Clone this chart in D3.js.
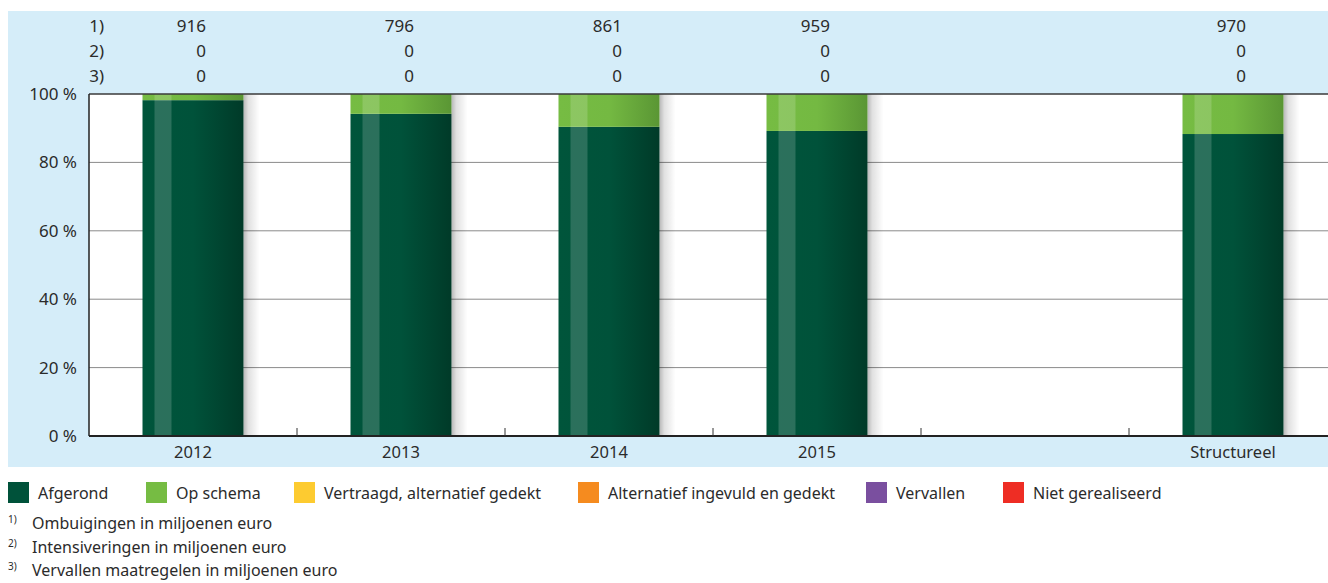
<!DOCTYPE html>
<html><head><meta charset="utf-8">
<script src="https://cdn.jsdelivr.net/npm/d3@7"></script>
<style>body{margin:0;background:#fff;font-family:"Noto Sans",sans-serif;}</style>
</head><body>
<svg id="c" width="1328" height="583"></svg>
<script>
const categories = ["2012","2013","2014","2015","","Structureel"];
const afgerond = [98.2, 94.2, 90.4, 89.2, null, 88.3];
const opSchema = [1.8, 5.8, 9.6, 10.8, null, 11.7];
const row1 = ["916","796","861","959","","970"];
const row2 = ["0","0","0","0","","0"];
const row3 = ["0","0","0","0","","0"];
const rowLabels = ["1)","2)","3)"];
const yTicks = [0,20,40,60,80,100];
const legendItems = [
  {name:"Afgerond", color:"#00523a"},
  {name:"Op schema", color:"#76bc43"},
  {name:"Vertraagd, alternatief gedekt", color:"#fdcb30"},
  {name:"Alternatief ingevuld en gedekt", color:"#f58b1f"},
  {name:"Vervallen", color:"#7a4f9f"},
  {name:"Niet gerealiseerd", color:"#ee2d24"}
];
const footnotes = [["1)","Ombuigingen in miljoenen euro"],["2)","Intensiveringen in miljoenen euro"],["3)","Vervallen maatregelen in miljoenen euro"]];

const svg = d3.select("#c");
const txt = "#2b2b2b";
const L=89, T=94, B=436, R=1337;
const x = d3.scaleBand().domain(categories.map((d,i)=>i)).range([L,R]);
const y = d3.scaleLinear().domain([0,100]).range([B,T]);

// background
svg.append("rect").attr("x",8).attr("y",11).attr("width",1320).attr("height",456).attr("fill","#d5edf9");
svg.append("rect").attr("x",L).attr("y",T).attr("width",R-L).attr("height",B-T).attr("fill","#fff");

const defs = svg.append("defs");
function grad(id, stops){
  const g = defs.append("linearGradient").attr("id",id).attr("x1","0").attr("x2","1").attr("y1","0").attr("y2","0");
  stops.forEach(s=>g.append("stop").attr("offset",s[0]).attr("stop-color",s[1]).attr("stop-opacity",s[2]===undefined?1:s[2]));
}
grad("gDark",[[0,"#00553b"],[0.5,"#00523a"],[1,"#003a28"]]);
grad("gGreen",[[0,"#76bc43"],[0.5,"#74b942"],[1,"#5a9634"]]);
grad("gShadow",[[0,"#000",0.28],[0.3,"#000",0.12],[1,"#000",0]]);

// grid
svg.append("g").selectAll("line").data(yTicks.filter(d=>d>0&&d<100)).join("line")
  .attr("x1",L).attr("x2",R).attr("y1",d=>y(d)).attr("y2",d=>y(d)).attr("stroke","#8a8a8a").attr("stroke-width",1);

const bw = 101;
const idx = categories.map((d,i)=>i).filter(i=>afgerond[i]!==null);
const bx = i => x(i)+x.bandwidth()/2-bw/2;

// shadows
svg.append("g").selectAll("rect").data(idx).join("rect")
  .attr("x",i=>bx(i)+bw).attr("y",y(100)).attr("width",16).attr("height",B-y(100)).attr("fill","url(#gShadow)");

// bars
const gb = svg.append("g");
gb.selectAll("rect.a").data(idx).join("rect").attr("class","a")
  .attr("x",i=>bx(i)).attr("width",bw).attr("y",i=>y(afgerond[i])).attr("height",i=>B-y(afgerond[i])).attr("fill","url(#gDark)");
gb.selectAll("rect.o").data(idx).join("rect").attr("class","o")
  .attr("x",i=>bx(i)).attr("width",bw).attr("y",i=>y(afgerond[i]+opSchema[i])).attr("height",i=>y(afgerond[i])-y(afgerond[i]+opSchema[i])).attr("fill","url(#gGreen)");
// highlight stripes
gb.selectAll("rect.s").data(idx).join("rect").attr("class","s")
  .attr("x",i=>bx(i)+12).attr("width",17).attr("y",y(100)).attr("height",B-y(100)).attr("fill","#fff").attr("opacity",0.17);

// axes
svg.append("line").attr("x1",L).attr("x2",R).attr("y1",T).attr("y2",T).attr("stroke","#3a3a3a").attr("stroke-width",1.5);
svg.append("line").attr("x1",L).attr("x2",R).attr("y1",B).attr("y2",B).attr("stroke","#222").attr("stroke-width",2);
svg.append("line").attr("x1",L).attr("x2",L).attr("y1",T).attr("y2",B).attr("stroke","#222").attr("stroke-width",1.5);
svg.append("g").selectAll("line").data(categories.slice(1).map((d,i)=>i+1)).join("line")
  .attr("x1",i=>x(i)).attr("x2",i=>x(i)).attr("y1",B-8).attr("y2",B).attr("stroke","#333").attr("stroke-width",1);

// y labels
svg.append("g").selectAll("text").data(yTicks).join("text")
  .attr("x",77).attr("y",d=>y(d)+6).attr("text-anchor","end").attr("font-size",17).attr("fill",txt)
  .text(d=>d+" %");

// x labels
svg.append("g").selectAll("text").data(categories.map((d,i)=>i)).join("text")
  .attr("x",i=>x(i)+x.bandwidth()/2).attr("y",458).attr("text-anchor","middle").attr("font-size",16.5).attr("fill",txt)
  .text(i=>categories[i]);

// table
const rows=[row1,row2,row3];
rowLabels.forEach((lab,r)=>{
  const yy = 32+r*25;
  svg.append("text").attr("x",104).attr("y",yy).attr("text-anchor","end").attr("font-size",17).attr("fill",txt).text(lab);
  svg.append("g").selectAll("text").data(categories.map((d,i)=>i)).join("text")
    .attr("x",i=>x(i)+x.bandwidth()/2+13).attr("y",yy).attr("text-anchor","end").attr("font-size",17).attr("fill",txt)
    .text(i=>rows[r][i]);
});

// legend
const legX=[8,146,294,578,866,1003];
const lg = svg.append("g");
legendItems.forEach((d,i)=>{
  lg.append("rect").attr("x",legX[i]).attr("y",482).attr("width",21).attr("height",21).attr("fill",d.color);
  lg.append("text").attr("x",legX[i]+30).attr("y",499).attr("font-size",16).attr("fill",txt).text(d.name);
});

// footnotes
footnotes.forEach((f,i)=>{
  const yy=529+i*23.5;
  svg.append("text").attr("x",8).attr("y",yy-6).attr("font-size",10).attr("fill",txt).text(f[0]);
  svg.append("text").attr("x",32).attr("y",yy).attr("font-size",16).attr("fill",txt).text(f[1]);
});
</script>
</body></html>
